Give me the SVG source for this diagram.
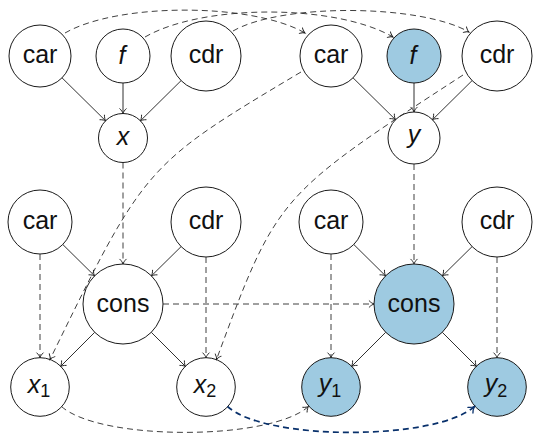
<svg xmlns="http://www.w3.org/2000/svg" width="533" height="435" viewBox="0 0 533 435">
  <style>
    .node circle { fill: #ffffff; stroke: #1a1a1a; stroke-width: 1; }
    .node.hl circle { fill: #9ecae1; }
    .node text { font-family: "Liberation Sans", Arial, sans-serif; font-size: 25px; fill: #111; text-anchor: middle; }
    .node text.it { font-style: italic; font-size: 25px; }
    .node text tspan.sub { font-style: normal; font-size: 18px; }
    .edge { fill: none; stroke: #1a1a1a; stroke-width: 0.9; marker-end: url(#tip); }
    .dash { stroke: #2a2a2a; stroke-dasharray: 6 4; }
    .hot { fill: none; stroke: #08306b; stroke-width: 1.7; stroke-dasharray: 6 4; marker-end: url(#tipHot); }
  </style>
  <defs>
    <marker id="tip" viewBox="-6 -4 7 8" refX="0" refY="0" markerWidth="7" markerHeight="8" markerUnits="userSpaceOnUse" orient="auto" overflow="visible">
      <path d="M-4.8,-3.2 C-3.2,-1.4 -1,-0.3 0,0 C-1,0.3 -3.2,1.4 -4.8,3.2" fill="none" stroke="#1a1a1a" stroke-width="0.9" stroke-linecap="round"/>
    </marker>
    <marker id="tipHot" viewBox="-7 -5 8 10" refX="0" refY="0" markerWidth="8" markerHeight="10" markerUnits="userSpaceOnUse" orient="auto" overflow="visible">
      <path d="M-5.5,-3.8 C-3.6,-1.6 -1.1,-0.4 0,0 C-1.1,0.4 -3.6,1.6 -5.5,3.8" fill="none" stroke="#08306b" stroke-width="1.3" stroke-linecap="round"/>
    </marker>
  </defs>

  <!-- upper left: x built from car, f, cdr -->
  <g id="tl-car" class="node"><circle cx="40" cy="56" r="31"/><text x="40" y="63">car</text></g>
  <g id="tl-f" class="node"><circle cx="123" cy="56" r="27"/><text class="it" x="122" y="64">f</text></g>
  <g id="tl-cdr" class="node"><circle cx="206" cy="56" r="35"/><text x="206" y="63">cdr</text></g>
  <g id="x" class="node"><circle cx="123" cy="138" r="24.5"/><text class="it" x="123" y="145">x</text></g>

  <!-- upper right: y built from car, f, cdr -->
  <g id="tr-car" class="node"><circle cx="331" cy="56" r="31"/><text x="331" y="63">car</text></g>
  <g id="tr-f" class="node hl"><circle cx="414" cy="56" r="27"/><text class="it" x="413" y="64">f</text></g>
  <g id="tr-cdr" class="node"><circle cx="497" cy="56" r="35"/><text x="497" y="63">cdr</text></g>
  <g id="y" class="node"><circle cx="414" cy="138" r="26"/><text class="it" x="414" y="143">y</text></g>

  <!-- lower left: cons splitting into x1, x2 -->
  <g id="bl-car" class="node"><circle cx="40" cy="222" r="32"/><text x="40" y="229">car</text></g>
  <g id="bl-cdr" class="node"><circle cx="206" cy="222" r="35"/><text x="206" y="229">cdr</text></g>
  <g id="bl-cons" class="node"><circle cx="123" cy="304" r="40"/><text x="123" y="312">cons</text></g>
  <g id="x1" class="node"><circle cx="40" cy="387" r="29.3"/><text class="it" x="39" y="393">x<tspan class="sub" dy="4">1</tspan></text></g>
  <g id="x2" class="node"><circle cx="206" cy="387" r="29.3"/><text class="it" x="205" y="393">x<tspan class="sub" dy="4">2</tspan></text></g>

  <!-- lower right: cons splitting into y1, y2 -->
  <g id="br-car" class="node"><circle cx="331" cy="222" r="32"/><text x="331" y="229">car</text></g>
  <g id="br-cdr" class="node"><circle cx="497" cy="222" r="35"/><text x="497" y="229">cdr</text></g>
  <g id="br-cons" class="node hl"><circle cx="414" cy="304" r="40"/><text x="414" y="312">cons</text></g>
  <g id="y1" class="node hl"><circle cx="331" cy="387" r="29.3"/><text class="it" x="330" y="392">y<tspan class="sub" dy="5">1</tspan></text></g>
  <g id="y2" class="node hl"><circle cx="497" cy="387" r="29.3"/><text class="it" x="496" y="392">y<tspan class="sub" dy="5">2</tspan></text></g>

  <g id="connectors">
    <!-- solid dependencies -->
    <path class="edge" d="M62,77.8 L105.6,120.8"/>
    <path class="edge" d="M123,83 L123,113.5"/>
    <path class="edge" d="M181.1,80.6 L140.4,120.8"/>
    <path class="edge" d="M353,77.8 L395.5,119.7"/>
    <path class="edge" d="M414,83 L414,112"/>
    <path class="edge" d="M472.1,80.6 L432.5,119.7"/>
    <path class="edge" d="M62.8,244.5 L94.6,275.9"/>
    <path class="edge" d="M181.1,246.6 L151.4,275.9"/>
    <path class="edge" d="M94.7,332.3 L60.5,366.5"/>
    <path class="edge" d="M151.3,332.3 L185.5,366.5"/>
    <path class="edge" d="M353.8,244.5 L385.6,275.9"/>
    <path class="edge" d="M472.1,246.6 L442.4,275.9"/>
    <path class="edge" d="M385.7,332.3 L351.5,366.5"/>
    <path class="edge" d="M442.3,332.3 L476.5,366.5"/>

    <!-- dashed correspondences -->
    <path class="edge dash" d="M123,162.5 L123,264"/>
    <path class="edge dash" d="M414,164 L414,264"/>
    <path class="edge dash" d="M40,254 L40,357.7"/>
    <path class="edge dash" d="M206,257 L206,357.7"/>
    <path class="edge dash" d="M331,254 L331,357.7"/>
    <path class="edge dash" d="M497,257 L497,357.7"/>
    <path class="edge dash" d="M163,304 L374,304"/>
    <path class="edge dash" d="M65,33 C117.8,2.5 252.2,2.5 305,33"/>
    <path class="edge dash" d="M145,37 C202.7,3.7 335.3,3.7 393,37"/>
    <path class="edge dash" d="M233,31 C281.5,3 420.5,4 469,32"/>
    <path class="edge dash" d="M301,72 C145,165 145,165 50,359.5"/>
    <path class="edge dash" d="M463,75 C277,196 277,196 216.5,359.5"/>
    <path class="edge dash" d="M61.5,406.5 C100,441 270,441 308.5,406.5"/>
    <path class="hot" d="M227.5,406.5 C265,441 436,441 474.5,406.5"/>
  </g>
</svg>
